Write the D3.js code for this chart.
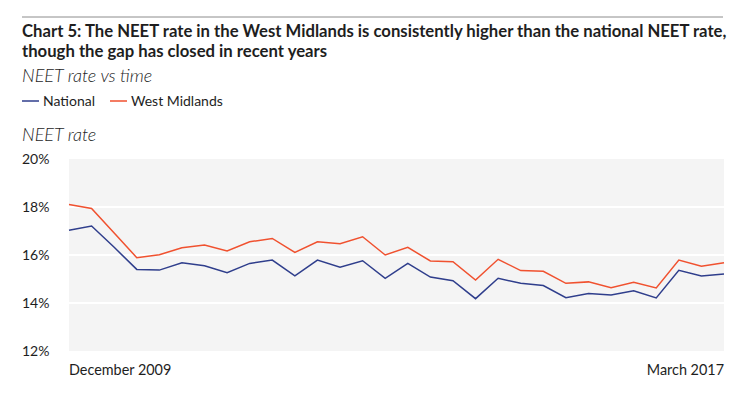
<!DOCTYPE html>
<html>
<head>
<meta charset="utf-8">
<script src="https://cdn.jsdelivr.net/npm/d3@7"></script>
<style>
body { margin: 0; background: #fff; }
text { font-family: Lato, "Open Sans", sans-serif; fill: #1e1e1e; }
</style>
</head>
<body>
<script>
// quarterly points, Dec 2009 .. Mar 2017
var quarters = ["Dec 2009", "Mar 2010", "Jun 2010", "Sep 2010", "Dec 2010", "Mar 2011", "Jun 2011", "Sep 2011",
	"Dec 2011", "Mar 2012", "Jun 2012", "Sep 2012", "Dec 2012", "Mar 2013", "Jun 2013", "Sep 2013",
	"Dec 2013", "Mar 2014", "Jun 2014", "Sep 2014", "Dec 2014", "Mar 2015", "Jun 2015", "Sep 2015",
	"Dec 2015", "Mar 2016", "Jun 2016", "Sep 2016", "Dec 2016", "Mar 2017"];
var national = [17.03, 17.21, 16.32, 15.40, 15.37, 15.68, 15.55, 15.26, 15.65, 15.79,
	15.13, 15.79, 15.49, 15.76, 15.03, 15.65, 15.08, 14.93, 14.18, 15.03,
	14.82, 14.73, 14.22, 14.40, 14.33, 14.51, 14.21, 15.36, 15.13, 15.21];
var westMidlands = [18.10, 17.94, 16.92, 15.89, 16.01, 16.30, 16.42, 16.17, 16.55, 16.69,
	16.11, 16.55, 16.47, 16.76, 16.00, 16.32, 15.75, 15.72, 14.96, 15.82,
	15.35, 15.32, 14.82, 14.88, 14.64, 14.86, 14.63, 15.79, 15.53, 15.68];
var yTicks = [12, 14, 16, 18, 20];
var xLabels = ["December 2009", "March 2017"];

var W = 750, H = 397;
var plotL = 69, plotR = 724, plotT = 159, plotB = 351; // "top" is taken by window.top

var svg = d3.select("body").append("svg")
	.attr("width", W)
	.attr("height", H);

// rule above the title
svg.append("line")
	.attr("x1", 22).attr("x2", 723)
	.attr("y1", 17).attr("y2", 17)
	.attr("stroke", "#8c8c8c")
	.attr("stroke-width", 1);

svg.append("text")
	.attr("x", 22).attr("y", 37)
	.attr("font-size", "16.7px")
	.attr("font-weight", "bold")
	.text("Chart 5: The NEET rate in the West Midlands is consistently higher than the national NEET rate,");
svg.append("text")
	.attr("x", 22).attr("y", 57)
	.attr("font-size", "16.7px")
	.attr("font-weight", "bold")
	.text("though the gap has closed in recent years");

svg.append("text")
	.attr("x", 22).attr("y", 82)
	.attr("font-size", "18px")
	.attr("font-style", "italic")
	.attr("font-weight", 300)
	.text("NEET rate vs time");

// legend
var legend = [{ name: "National", color: "#2f3e8c", x: 22 }, { name: "West Midlands", color: "#f0512f", x: 110 }];
legend.forEach(function (d) {
	svg.append("line")
		.attr("x1", d.x).attr("x2", d.x + 17)
		.attr("y1", 101).attr("y2", 101)
		.attr("stroke", d.color)
		.attr("stroke-width", 1.5);
	svg.append("text")
		.attr("x", d.x + 21).attr("y", 106)
		.attr("font-size", "14px")
		.text(d.name);
});

svg.append("text")
	.attr("x", 22).attr("y", 141)
	.attr("font-size", "18px")
	.attr("font-style", "italic")
	.attr("font-weight", 300)
	.text("NEET rate");

var x = d3.scalePoint().domain(quarters).range([plotL, plotR]);
var y = d3.scaleLinear().domain([12, 20]).range([plotB, plotT]);

svg.append("rect")
	.attr("x", plotL).attr("y", plotT)
	.attr("width", plotR - plotL).attr("height", plotB - plotT)
	.attr("fill", "#f4f4f4");

svg.selectAll(".grid").data(yTicks.slice(1, -1))
	.enter().append("line")
	.attr("x1", plotL).attr("x2", plotR)
	.attr("y1", function (d) { return y(d); })
	.attr("y2", function (d) { return y(d); })
	.attr("stroke", "#fff")
	.attr("stroke-width", 2);

svg.selectAll(".ytick").data(yTicks)
	.enter().append("text")
	.attr("x", 22)
	.attr("y", function (d) { return y(d) + 5; })
	.attr("font-size", "14px")
	.text(function (d) { return d + "%"; });

svg.append("text")
	.attr("x", plotL).attr("y", 375)
	.attr("font-size", "14.4px")
	.text(xLabels[0]);
svg.append("text")
	.attr("x", plotR).attr("y", 375)
	.attr("font-size", "14.4px")
	.attr("text-anchor", "end")
	.text(xLabels[1]);

var line = d3.line()
	.x(function (d, i) { return x(quarters[i]); })
	.y(function (d) { return y(d); });

svg.append("path")
	.attr("d", line(national))
	.attr("fill", "none")
	.attr("stroke", "#2f3e8c")
	.attr("stroke-width", 1.5);
svg.append("path")
	.attr("d", line(westMidlands))
	.attr("fill", "none")
	.attr("stroke", "#f0512f")
	.attr("stroke-width", 1.5);
</script>
</body>
</html>
